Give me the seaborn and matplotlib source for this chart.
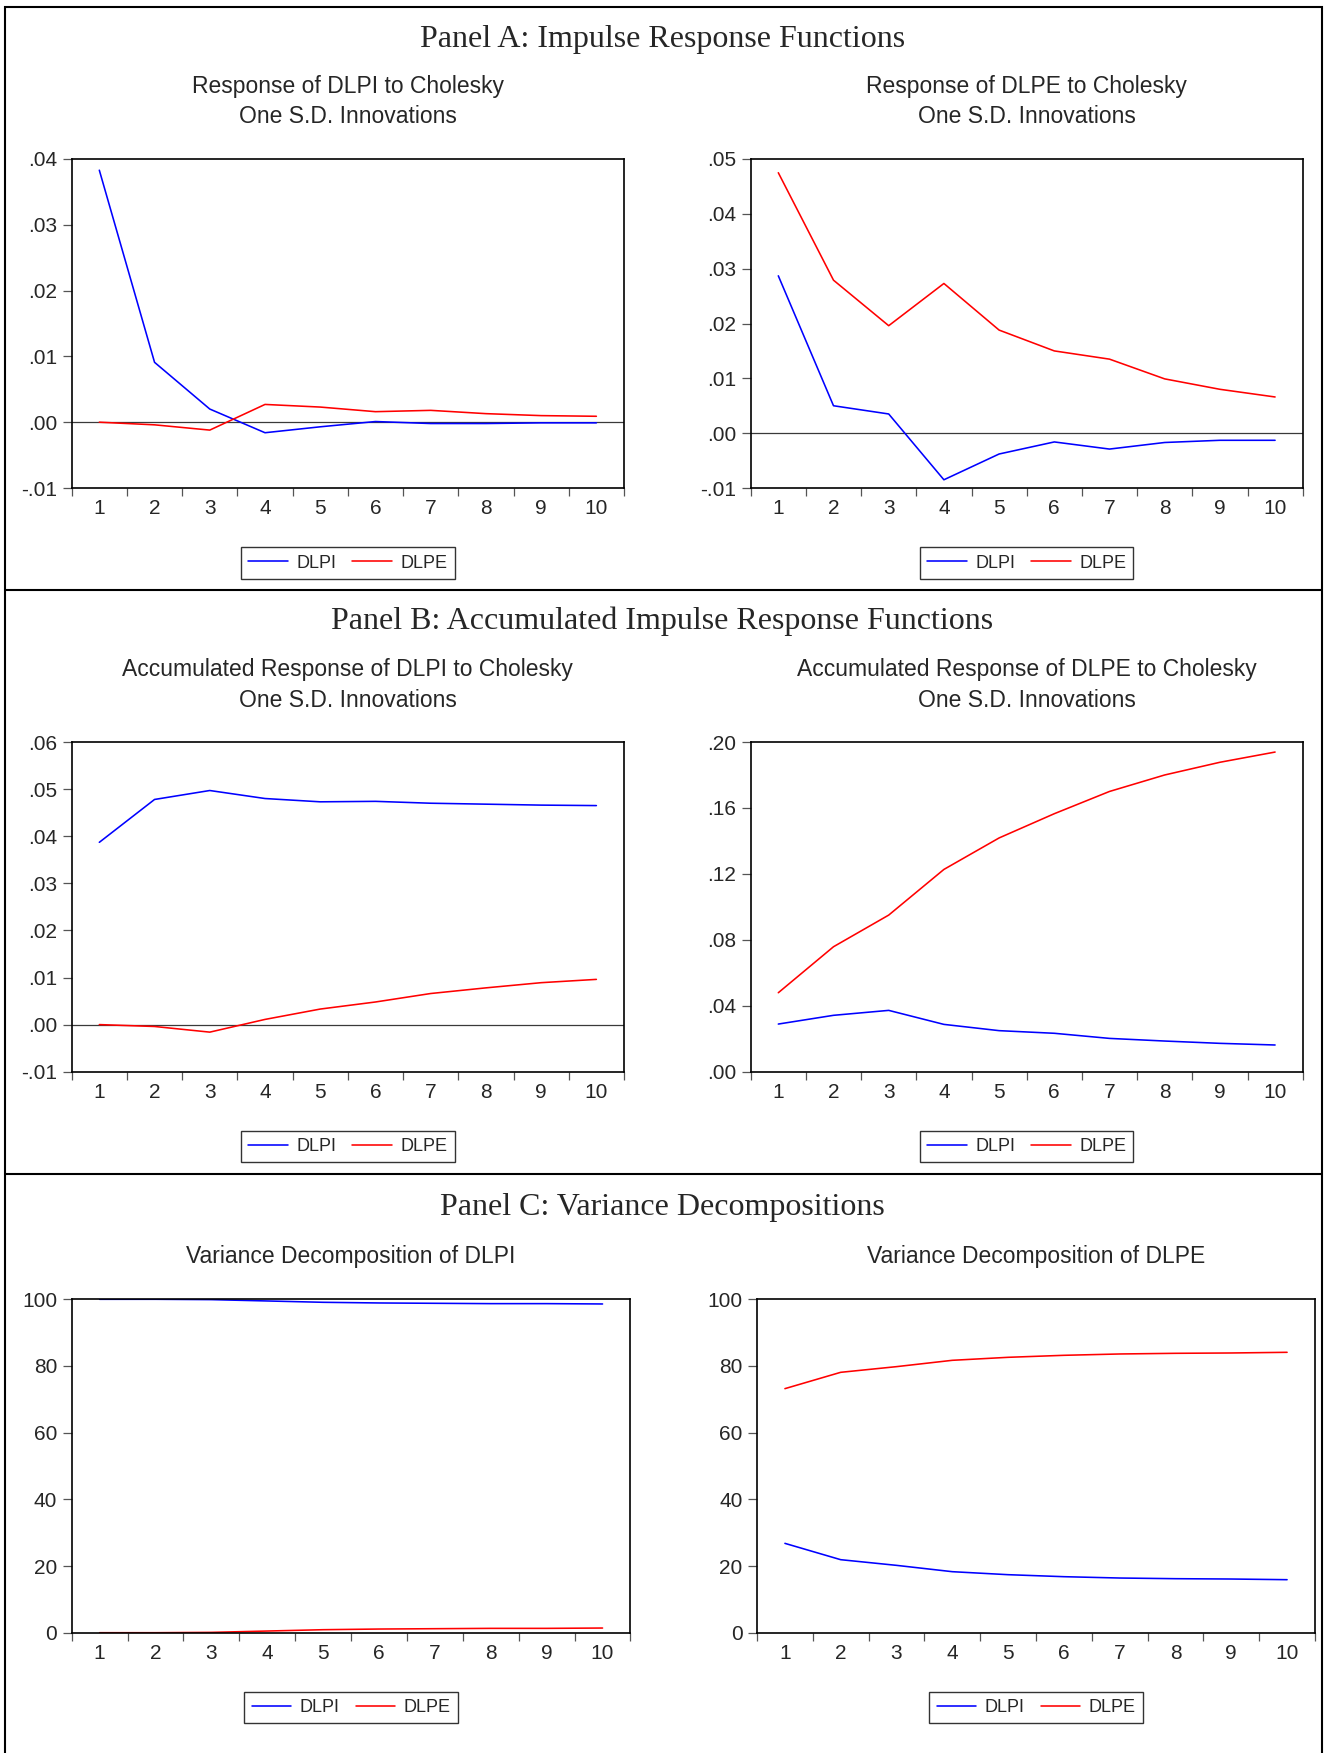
import numpy as np
import pandas as pd
import matplotlib
matplotlib.use("Agg")
import matplotlib.pyplot as plt
from matplotlib.ticker import FuncFormatter, FixedLocator
from matplotlib.lines import Line2D
from matplotlib.patches import Rectangle
import seaborn as sns

# ---------------- data ----------------
periods = [1, 2, 3, 4, 5, 6, 7, 8, 9, 10]

# Panel A: impulse responses
irf_dlpi_dlpi = [0.0383, 0.0091, 0.0020, -0.0016, -0.0007, 0.0001, -0.0002, -0.0002, -0.0001, -0.0001]
irf_dlpi_dlpe = [0.0000, -0.0004, -0.0012, 0.0027, 0.0023, 0.0016, 0.0018, 0.0013, 0.0010, 0.0009]
irf_dlpe_dlpi = [0.0287, 0.0050, 0.0035, -0.0085, -0.0038, -0.0016, -0.0029, -0.0017, -0.0013, -0.0013]
irf_dlpe_dlpe = [0.0475, 0.0279, 0.0196, 0.0273, 0.0188, 0.0150, 0.0135, 0.0099, 0.0080, 0.0066]

# Panel B: accumulated responses
acc_dlpi_dlpi = [0.0387, 0.0478, 0.0497, 0.0480, 0.0473, 0.0474, 0.0470, 0.0468, 0.0466, 0.0465]
acc_dlpi_dlpe = [0.0000, -0.0004, -0.0016, 0.0011, 0.0033, 0.0048, 0.0066, 0.0078, 0.0089, 0.0096]
acc_dlpe_dlpi = [0.0289, 0.0342, 0.0372, 0.0287, 0.0249, 0.0233, 0.0202, 0.0186, 0.0172, 0.0162]
acc_dlpe_dlpe = [0.0479, 0.0758, 0.0950, 0.1227, 0.1418, 0.1565, 0.1700, 0.1800, 0.1877, 0.1939]

# Panel C: variance decompositions
vd_dlpi_dlpi = [100.0, 100.0, 99.9, 99.5, 99.1, 98.9, 98.8, 98.7, 98.7, 98.6]
vd_dlpi_dlpe = [0.0, 0.0, 0.1, 0.5, 0.9, 1.1, 1.2, 1.3, 1.3, 1.4]
vd_dlpe_dlpi = [26.8, 21.9, 20.2, 18.3, 17.4, 16.8, 16.4, 16.2, 16.1, 15.9]
vd_dlpe_dlpe = [73.2, 78.1, 79.8, 81.7, 82.6, 83.2, 83.6, 83.8, 83.9, 84.1]

series_names = ["DLPI", "DLPE"]

panel_titles = ["Panel A: Impulse Response Functions",
                "Panel B: Accumulated Impulse Response Functions",
                "Panel C: Variance Decompositions"]
sub_titles = ["Response of DLPI to Cholesky\nOne S.D. Innovations",
              "Response of DLPE to Cholesky\nOne S.D. Innovations",
              "Accumulated Response of DLPI to Cholesky\nOne S.D. Innovations",
              "Accumulated Response of DLPE to Cholesky\nOne S.D. Innovations",
              "Variance Decomposition of DLPI",
              "Variance Decomposition of DLPE"]

yticks_a_left = [-0.01, 0.00, 0.01, 0.02, 0.03, 0.04]
yticks_a_right = [-0.01, 0.00, 0.01, 0.02, 0.03, 0.04, 0.05]
yticks_b_left = [-0.01, 0.00, 0.01, 0.02, 0.03, 0.04, 0.05, 0.06]
yticks_b_right = [0.00, 0.04, 0.08, 0.12, 0.16, 0.20]
yticks_c = [0, 20, 40, 60, 80, 100]

# ---------------- style ----------------
sns.set_style("white")
plt.rcParams['font.family'] = ['Liberation Sans', 'DejaVu Sans']

W, H = 1325, 1753
fig = plt.figure(figsize=(W / 100, H / 100), dpi=100)


def rect(x0, y0, x1, y1):
    return [x0 / W, 1 - y1 / H, (x1 - x0) / W, (y1 - y0) / H]


def dec_fmt(v, pos):
    s = f"{v:.2f}"
    if s.startswith("-0"):
        s = "-" + s[2:]
    elif s.startswith("0"):
        s = s[1:]
    return s


def int_fmt(v, pos):
    return f"{int(round(v))}"


BLUE = "#0000FF"
RED = "#FF0000"

layout = [
    # (axes rect px, data, yticks, formatter, zero line, subtitle y centre px)
    ((71.7, 159, 624, 488), (irf_dlpi_dlpi, irf_dlpi_dlpe), yticks_a_left, dec_fmt, True, 101.5),
    ((750.7, 159, 1302.7, 488), (irf_dlpe_dlpi, irf_dlpe_dlpe), yticks_a_right, dec_fmt, True, 101.5),
    ((71.7, 742, 624, 1071.7), (acc_dlpi_dlpi, acc_dlpi_dlpe), yticks_b_left, dec_fmt, True, 685),
    ((750.7, 742, 1302.7, 1071.7), (acc_dlpe_dlpi, acc_dlpe_dlpe), yticks_b_right, dec_fmt, False, 685),
    ((71.7, 1299.3, 630.5, 1632.7), (vd_dlpi_dlpi, vd_dlpi_dlpe), yticks_c, int_fmt, False, 1256),
    ((757, 1299.3, 1315, 1632.7), (vd_dlpe_dlpi, vd_dlpe_dlpe), yticks_c, int_fmt, False, 1256),
]

for i, (r, (s1, s2), yt, fmt, zero, sub_y) in enumerate(layout):
    ax = fig.add_axes(rect(*r))
    df = pd.DataFrame({"period": periods * 2,
                       "value": list(s1) + list(s2),
                       "series": [series_names[0]] * 10 + [series_names[1]] * 10})
    sns.lineplot(data=df, x="period", y="value", hue="series",
                 palette={"DLPI": BLUE, "DLPE": RED}, linewidth=1.15,
                 ax=ax, legend=False)
    if zero:
        ax.axhline(0, color="#3a3a3a", lw=0.9, zorder=1)
    ax.set_xlim(0.5, 10.5)
    ax.set_ylim(yt[0], yt[-1])
    ax.set_xlabel("")
    ax.set_ylabel("")
    ax.set_yticks(yt)
    ax.yaxis.set_major_formatter(FuncFormatter(fmt))
    ax.xaxis.set_major_locator(FixedLocator([p - 0.5 for p in periods] + [10.5]))
    ax.xaxis.set_major_formatter(FuncFormatter(lambda v, p: ""))
    ax.xaxis.set_minor_locator(FixedLocator(periods))
    ax.xaxis.set_minor_formatter(FuncFormatter(lambda v, p: f"{int(v)}"))
    ax.tick_params(axis="y", which="major", direction="out", length=6.5, width=0.9,
                   color="#555555", pad=4, labelsize=15, left=True)
    ax.tick_params(axis="x", which="major", direction="out", length=6, width=0.9,
                   color="#555555", bottom=True)
    ax.tick_params(axis="x", which="minor", length=0, pad=8, labelsize=15, bottom=True)
    for sp in ax.spines.values():
        sp.set_visible(True)
        sp.set_color("black")
        sp.set_linewidth(1.2)

    cx = (r[0] + r[2]) / 2
    fig.text(cx / W, 1 - sub_y / H, sub_titles[i], ha="center", va="center",
             fontsize=16.5, linespacing=1.42)

    handles = [Line2D([], [], color=BLUE, lw=1.15), Line2D([], [], color=RED, lw=1.15)]
    leg_y = r[3] + 75
    leg = ax.legend(handles, series_names, loc="center", ncol=2,
                    bbox_to_anchor=(cx / W, 1 - leg_y / H), bbox_transform=fig.transFigure,
                    fontsize=13, frameon=True, fancybox=False, framealpha=1,
                    edgecolor="#333333", handlelength=2.2, handletextpad=0.45,
                    columnspacing=0.9, borderpad=0.4, borderaxespad=0)
    leg.get_frame().set_linewidth(1.0)

# Panel titles
for t, y in zip(panel_titles, [39, 621, 1208]):
    fig.text(0.5, 1 - y / H, t, ha="center", va="center", fontsize=23,
             family=["Liberation Serif", "DejaVu Serif"])

# Outer frame and dividers
fig.add_artist(Rectangle((5 / W, -0.01), (1322 - 5) / W, 1 - 7 / H + 0.01,
                         transform=fig.transFigure, fill=False, edgecolor="black", lw=1.5))
for y in [590, 1174]:
    fig.add_artist(Line2D([5 / W, 1322 / W], [1 - y / H, 1 - y / H],
                          transform=fig.transFigure, color="black", lw=1.5))

fig.savefig("out.png", dpi=100)
